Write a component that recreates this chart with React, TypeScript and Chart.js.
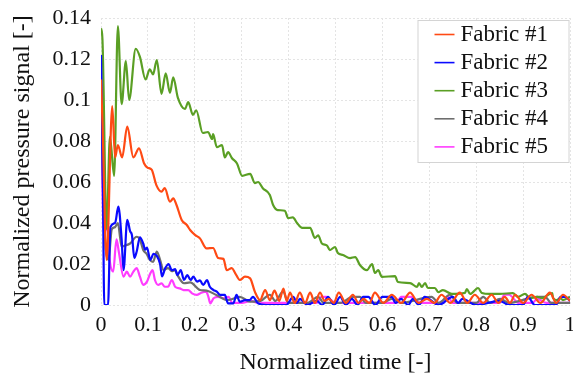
import React, { useEffect, useRef } from "react";
import { Chart, registerables } from "chart.js";

Chart.register(...registerables);

// ---- Data ----
const seriesNames = ["Fabric #1", "Fabric #2", "Fabric #3", "Fabric #4", "Fabric #5"];

const fabric1T = [0, 0.003, 0.012, 0.024, 0.030, 0.036, 0.045, 0.056, 0.069, 0.081, 0.092, 0.099, 0.108, 0.118, 0.129, 0.136, 0.147, 0.154, 0.161, 0.172, 0.183, 0.190, 0.201, 0.211, 0.225, 0.239, 0.250, 0.261, 0.268, 0.279, 0.286, 0.296, 0.307, 0.318, 0.328, 0.339, 0.350, 0.360, 0.370, 0.380, 0.389, 0.396, 0.403, 0.413, 0.424, 0.435, 0.446, 0.456, 0.467, 0.477, 0.486, 0.496, 0.507, 0.522, 0.537, 0.549, 0.560, 0.572, 0.584, 0.602, 0.620, 0.640, 0.659, 0.677, 0.695, 0.711, 0.726, 0.745, 0.765, 0.781, 0.797, 0.815, 0.833, 0.847, 0.861, 0.872, 0.883, 0.900, 0.918, 0.937, 0.957, 0.971, 0.985, 1.0];
const fabric1V = [0.110, 0.090, 0.022, 0.097, 0.072, 0.078, 0.072, 0.087, 0.072, 0.0764, 0.069, 0.067, 0.066, 0.0585, 0.0553, 0.057, 0.0504, 0.052, 0.0488, 0.0415, 0.039, 0.0366, 0.0341, 0.0325, 0.0276, 0.0278, 0.0229, 0.0225, 0.017, 0.018, 0.0156, 0.0122, 0.0138, 0.013, 0.0065, 0.0024, 0.0073, 0.0024, 0.007, 0.002, 0.008, 0.002, 0.006, 0.001, 0.006, 0.001, 0.006, 0.001, 0.006, 0.002, 0.003, 0.001, 0.006, 0.001, 0.005, 0.001, 0.003, 0.001, 0.006, 0.001, 0.005, 0.001, 0.006, 0.001, 0.003, 0.001, 0.005, 0.001, 0.006, 0.001, 0.005, 0.001, 0.005, 0.001, 0.004, 0.001, 0.005, 0.001, 0.005, 0.001, 0.006, 0.001, 0.005, 0.002];

const fabric2T = [0, 0.004, 0.007, 0.015, 0.020, 0.030, 0.037, 0.044, 0.048, 0.056, 0.062, 0.066, 0.071, 0.076, 0.083, 0.090, 0.094, 0.098, 0.105, 0.112, 0.119, 0.126, 0.130, 0.137, 0.144, 0.151, 0.158, 0.163, 0.170, 0.177, 0.184, 0.191, 0.197, 0.205, 0.211, 0.218, 0.226, 0.232, 0.240, 0.247, 0.254, 0.264, 0.271, 0.282, 0.289, 0.296, 0.307, 0.317, 0.324, 0.335, 0.352, 0.395, 0.410, 0.418, 0.424, 0.440, 0.460, 0.472, 0.484, 0.497, 0.510, 0.522, 0.535, 0.547, 0.559, 0.570, 0.585, 0.600, 0.620, 0.628, 0.640, 0.655, 0.665, 0.678, 0.690, 0.720, 0.750, 0.762, 0.770, 0.800, 0.850, 0.870, 0.900, 0.910, 0.925, 0.970, 0.980, 0.990, 1.0];
const fabric2V = [0.122, 0.060, 0.0, 0.0, 0.038, 0.040, 0.048, 0.032, 0.017, 0.0415, 0.036, 0.034, 0.023, 0.026, 0.033, 0.030, 0.027, 0.028, 0.022, 0.025, 0.024, 0.020, 0.014, 0.018, 0.020, 0.017, 0.0175, 0.0146, 0.017, 0.0122, 0.0146, 0.0122, 0.0138, 0.0114, 0.012, 0.0098, 0.0122, 0.0089, 0.0073, 0.0065, 0.0049, 0.0049, 0.0008, 0.0008, 0.0049, 0.0016, 0.0024, 0.0024, 0.004, 0.0008, 0.0, 0.0, 0.004, 0.001, 0.003, 0.0, 0.002, 0.0, 0.004, 0.0, 0.004, 0.0, 0.003, 0.0, 0.004, 0.004, 0.0, 0.004, 0.004, 0.001, 0.003, 0.0, 0.003, 0.0, 0.004, 0.0, 0.004, 0.001, 0.003, 0.0, 0.002, 0.0, 0.0, 0.004, 0.0, 0.0, 0.004, 0.004, 0.002];

const fabric3T = [0, 0.003, 0.012, 0.019, 0.028, 0.036, 0.044, 0.053, 0.060, 0.074, 0.083, 0.095, 0.104, 0.111, 0.119, 0.129, 0.138, 0.147, 0.154, 0.164, 0.179, 0.186, 0.196, 0.203, 0.217, 0.228, 0.237, 0.239, 0.247, 0.258, 0.264, 0.271, 0.279, 0.290, 0.301, 0.318, 0.328, 0.335, 0.345, 0.360, 0.367, 0.377, 0.392, 0.399, 0.409, 0.418, 0.429, 0.446, 0.456, 0.463, 0.471, 0.482, 0.488, 0.499, 0.505, 0.516, 0.531, 0.542, 0.552, 0.567, 0.578, 0.584, 0.591, 0.599, 0.627, 0.633, 0.659, 0.674, 0.678, 0.684, 0.691, 0.697, 0.712, 0.719, 0.729, 0.748, 0.776, 0.780, 0.787, 0.804, 0.812, 0.829, 0.851, 0.878, 0.889, 0.904, 0.915, 0.930, 0.940, 0.962, 0.964, 0.972, 0.979, 0.985, 1.0];
const fabric3V = [0.135, 0.130, 0.037, 0.082, 0.063, 0.136, 0.098, 0.119, 0.100, 0.125, 0.121, 0.110, 0.115, 0.1125, 0.1195, 0.103, 0.113, 0.1035, 0.111, 0.101, 0.0956, 0.099, 0.0927, 0.095, 0.0839, 0.0844, 0.081, 0.0834, 0.077, 0.078, 0.072, 0.0746, 0.0717, 0.069, 0.063, 0.064, 0.0595, 0.060, 0.057, 0.0537, 0.0488, 0.0463, 0.046, 0.0424, 0.0427, 0.040, 0.0376, 0.0376, 0.0327, 0.034, 0.030, 0.029, 0.0268, 0.0283, 0.0254, 0.0244, 0.0229, 0.0234, 0.0195, 0.017, 0.020, 0.0156, 0.017, 0.0137, 0.0141, 0.0112, 0.0107, 0.0088, 0.0107, 0.0088, 0.0107, 0.0083, 0.0083, 0.0063, 0.0073, 0.0054, 0.0059, 0.0078, 0.0054, 0.0083, 0.0059, 0.0054, 0.0054, 0.0058, 0.004, 0.0054, 0.0034, 0.004, 0.0034, 0.0058, 0.0034, 0.0024, 0.0034, 0.0024, 0.004];

const fabric4T = [0, 0.004, 0.016, 0.023, 0.030, 0.036, 0.041, 0.044, 0.051, 0.062, 0.076, 0.083, 0.090, 0.097, 0.104, 0.111, 0.119, 0.126, 0.133, 0.143, 0.151, 0.158, 0.163, 0.177, 0.190, 0.211, 0.225, 0.246, 0.270, 0.296, 0.318, 0.340, 0.360, 0.372, 0.388, 0.400, 0.440, 0.463, 0.475, 0.510, 0.537, 0.552, 0.565, 0.600, 0.620, 0.640, 0.705, 0.720, 0.744, 0.760, 0.800, 0.815, 0.830, 0.851, 0.870, 0.930, 0.947, 0.960, 1.0];
const fabric4V = [0.118, 0.060, 0.022, 0.037, 0.038, 0.040, 0.0325, 0.0285, 0.029, 0.030, 0.0333, 0.032, 0.0268, 0.025, 0.022, 0.021, 0.026, 0.022, 0.017, 0.018, 0.0165, 0.017, 0.0146, 0.0106, 0.011, 0.0073, 0.007, 0.0049, 0.0024, 0.004, 0.0016, 0.002, 0.005, 0.002, 0.0065, 0.001, 0.001, 0.004, 0.001, 0.001, 0.004, 0.004, 0.001, 0.001, 0.003, 0.001, 0.004, 0.001, 0.005, 0.001, 0.001, 0.004, 0.001, 0.003, 0.001, 0.004, 0.004, 0.001, 0.001];

const fabric5T = [0, 0.006, 0.013, 0.019, 0.026, 0.033, 0.038, 0.048, 0.055, 0.062, 0.069, 0.076, 0.083, 0.090, 0.098, 0.105, 0.110, 0.115, 0.122, 0.129, 0.136, 0.143, 0.151, 0.158, 0.168, 0.176, 0.186, 0.194, 0.204, 0.214, 0.224, 0.229, 0.233, 0.240, 0.250, 0.261, 0.272, 0.280, 0.300, 0.320, 0.335, 0.460, 0.470, 0.480, 0.500, 0.630, 0.640, 0.660, 0.680, 0.730, 0.740, 0.750, 0.850, 0.860, 0.870, 0.890, 0.920, 0.930, 0.950, 1.0];
const fabric5V = [0.100, 0.035, 0.038, 0.021, 0.0163, 0.032, 0.026, 0.0138, 0.0163, 0.0138, 0.0163, 0.018, 0.0138, 0.0098, 0.0114, 0.0154, 0.017, 0.0122, 0.0098, 0.0106, 0.0089, 0.009, 0.0122, 0.0089, 0.0081, 0.0073, 0.0073, 0.0057, 0.0049, 0.006, 0.0065, 0.004, 0.0008, 0.0033, 0.004, 0.0033, 0.004, 0.001, 0.001, 0.002, 0.001, 0.001, 0.004, 0.004, 0.001, 0.001, 0.004, 0.004, 0.001, 0.001, 0.004, 0.001, 0.001, 0.005, 0.005, 0.001, 0.001, 0.003, 0.001, 0.001];

const seriesT = [fabric1T, fabric2T, fabric3T, fabric4T, fabric5T];
const seriesV = [fabric1V, fabric2V, fabric3V, fabric4V, fabric5V];

// ---- Styles ----
const seriesColors = ["#ff4a14", "#0a0aff", "#5a9f24", "#6e6e6e", "#ff3cff"];
const FONT = '"Liberation Serif", "Times New Roman", serif';

const boxLegend = {
  id: "boxLegend",
  afterDraw(chart: any) {
    const ctx = chart.ctx;
    const area = chart.chartArea;
    const w = 151;
    const h = 142;
    const x0 = area.right - w - 1.5;
    const y0 = area.top + 2;
    ctx.save();
    ctx.fillStyle = "#ffffff";
    ctx.fillRect(x0, y0, w, h);
    ctx.strokeStyle = "#d4d4d4";
    ctx.lineWidth = 1;
    ctx.strokeRect(x0 + 0.5, y0 + 0.5, w, h);
    ctx.font = "23px " + FONT;
    ctx.textBaseline = "middle";
    ctx.textAlign = "left";
    chart.data.datasets.forEach((ds: any, i: number) => {
      const y = y0 + 14.5 + i * 28.1;
      ctx.strokeStyle = ds.borderColor;
      ctx.lineWidth = 1.6;
      ctx.beginPath();
      ctx.moveTo(x0 + 17, y);
      ctx.lineTo(x0 + 37, y);
      ctx.stroke();
      ctx.fillStyle = "#111111";
      ctx.fillText(ds.label, x0 + 43, y);
    });
    ctx.restore();
  },
};

const zeroPad = (scale: any) => {
  scale.paddingLeft = 0;
  scale.paddingRight = 0;
  scale.paddingTop = 0;
  scale.paddingBottom = 0;
};

export default function App() {
  const ref = useRef<HTMLCanvasElement | null>(null);

  useEffect(() => {
    if (!ref.current) return;
    const datasets = seriesNames.map((name, i) => ({
      label: name,
      data: seriesT[i].map((t, k) => ({ x: t, y: seriesV[i][k] })),
      borderColor: seriesColors[i],
      backgroundColor: seriesColors[i],
      borderWidth: 2.2,
      pointRadius: 0,
      fill: false,
      cubicInterpolationMode: "monotone" as const,
    }));
    const chart = new Chart(ref.current, {
      type: "line",
      data: { datasets },
      options: {
        animation: false,
        responsive: false,
        maintainAspectRatio: false,
        layout: { padding: { top: 18, right: 3, left: 0, bottom: 0 } },
        plugins: {
          legend: { display: false },
          tooltip: { enabled: false },
        },
        scales: {
          x: {
            type: "linear",
            min: 0,
            max: 1,
            ticks: {
              stepSize: 0.1,
              autoSkip: false,
              maxRotation: 0,
              padding: 7,
              color: "#111111",
              font: { family: FONT, size: 22 },
              callback: (v: any) => String(Number(Number(v).toFixed(1))),
            },
            grid: { color: "#e4e4e4", lineWidth: 1, drawTicks: false },
            border: { display: false, dash: [2, 2] },
            title: {
              display: true,
              text: "Normalized time [-]",
              color: "#111111",
              font: { family: FONT, size: 24 },
              padding: { top: 0, bottom: 1 },
            },
            afterFit: (scale: any) => {
              scale.height = 73;
              zeroPad(scale);
            },
          },
          y: {
            type: "linear",
            min: 0,
            max: 0.14,
            ticks: {
              stepSize: 0.02,
              padding: 10,
              color: "#111111",
              font: { family: FONT, size: 22 },
              callback: (v: any) => String(Number(Number(v).toFixed(2))),
            },
            grid: { color: "#e4e4e4", lineWidth: 1, drawTicks: false },
            border: { display: false, dash: [2, 2] },
            title: {
              display: true,
              text: "Normalized pressure signal [-]",
              color: "#111111",
              font: { family: FONT, size: 24 },
              padding: { top: 8, bottom: 0 },
            },
            afterFit: (scale: any) => {
              scale.width = 101;
              zeroPad(scale);
            },
          },
        },
      },
      plugins: [boxLegend],
    });
    return () => chart.destroy();
  }, []);

  return (
    <div style={{ position: "absolute", left: 0, top: 0, width: 573, height: 378, background: "#fff" }}>
      <canvas ref={ref} width={573} height={378} style={{ display: "block", width: 573, height: 378 }} />
    </div>
  );
}
